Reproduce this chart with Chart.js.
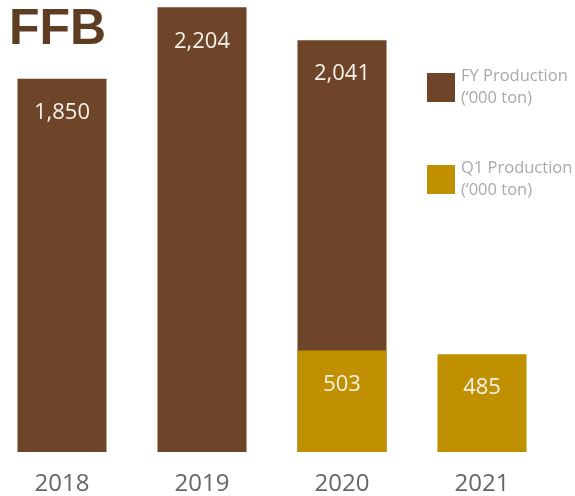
<!DOCTYPE html>
<html>
<head>
<meta charset="utf-8">
<script src="https://cdn.jsdelivr.net/npm/chart.js@4/dist/chart.umd.min.js"></script>
<style>
  html, body { margin: 0; padding: 0; background: #fff; overflow: hidden; }
  #wrap { position: relative; width: 575px; height: 496px; overflow: hidden; }
  #chartBox { position: absolute; left: -8px; top: 0; width: 560px; height: 516px; }
  #title {
    position: absolute; left: 9px; top: -2px;
    font: bold 50px "Liberation Sans", Arial, sans-serif;
    color: #5e3d22;
  }
  #legend { position: absolute; left: 427px; top: 0; }
  .item { position: absolute; left: 0; width: 150px; }
  .swatch { position: absolute; left: 0; width: 28px; height: 29px; }
  .label {
    position: absolute; left: 34px; top: -9px;
    font: 16.5px "Open Sans", sans-serif; line-height: 22px;
    color: #a9a9a9; white-space: nowrap;
  }
</style>
</head>
<body>
<div id="wrap">
  <div id="chartBox"><canvas id="ffb"></canvas></div>
  <div id="title">FFB</div>
  <div id="legend"></div>
</div>
<script>
// FFB production, '000 ton
const years        = ['2018', '2019', '2020', '2021'];
const fyProduction = [1850, 2204, 2041, null];
const q1Production = [null, null, 503, 485];
const seriesNames  = ['FY Production', 'Q1 Production'];
const unitLabel    = '(\u2018000 ton)';

const COLORS = {
  fy:    '#6e4529',
  q1:    '#c09000',
  value: '#f6f1ea',
  tick:  '#666666',
};

// white value labels near the top of each bar
const valueLabels = {
  id: 'valueLabels',
  afterDatasetsDraw(chart) {
    const ctx = chart.ctx;
    ctx.save();
    ctx.font = '22px "Open Sans", sans-serif';
    ctx.fillStyle = COLORS.value;
    ctx.textAlign = 'center';
    ctx.textBaseline = 'middle';
    chart.data.datasets.forEach((ds, i) => {
      chart.getDatasetMeta(i).data.forEach((bar, j) => {
        const v = ds.data[j];
        if (v == null) return;
        ctx.fillText(v.toLocaleString('en-US'), bar.x, bar.y + 34);
      });
    });
    ctx.restore();
  },
};

const chart = new Chart(document.getElementById('ffb'), {
  type: 'bar',
  data: {
    labels: years,
    datasets: [
      {
        label: seriesNames[0],
        data: fyProduction,
        backgroundColor: COLORS.fy,
        grouped: false,
        order: 2,
      },
      {
        label: seriesNames[1],
        data: q1Production,
        backgroundColor: COLORS.q1,
        grouped: false,
        order: 1,
      },
    ],
  },
  options: {
    responsive: true,
    maintainAspectRatio: false,
    animation: false,
    layout: { padding: 0 },
    datasets: { bar: { barPercentage: 0.636, categoryPercentage: 1 } },
    plugins: { legend: { display: false }, tooltip: { enabled: false } },
    scales: {
      x: {
        grid: { display: false, drawTicks: false },
        border: { display: false },
        ticks: {
          padding: 20,
          color: COLORS.tick,
          font: { family: '"Open Sans", sans-serif', size: 24, lineHeight: 1 },
        },
      },
      y: { display: false, min: 0, max: 2240 },
    },
  },
  plugins: [valueLabels],
});

// legend to the right, built from the dataset labels
const legend = document.getElementById('legend');
const legendTops = [73, 165];
chart.data.datasets.forEach((ds, i) => {
  const item = document.createElement('div');
  item.className = 'item';
  item.style.top = legendTops[i] + 'px';
  item.innerHTML =
    '<div class="swatch" style="background:' + ds.backgroundColor + '"></div>' +
    '<div class="label">' + ds.label + '<br>' + unitLabel + '</div>';
  legend.appendChild(item);
});
</script>
</body>
</html>
